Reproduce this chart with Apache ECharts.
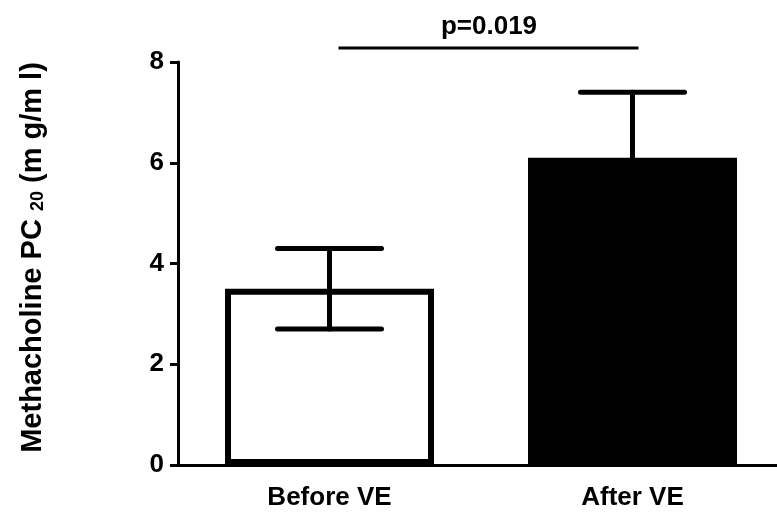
<!DOCTYPE html>
<html>
<head>
<meta charset="utf-8">
<script src="https://cdn.jsdelivr.net/npm/echarts@6/dist/echarts.min.js"></script>
<style>
html,body{margin:0;padding:0;background:#fff;}
#chart{width:777px;height:516px;}
</style>
</head>
<body>
<div id="chart"></div>
<script>
var categories = ['Before VE', 'After VE'];
var means = [3.5, 6.1];
var errors = [0.8, 1.3];
var yTicks = [0, 2, 4, 6, 8];
var pText = 'p=0.019';
var pLevel = 8.28;

var FONT = "'Liberation Sans', Arial, sans-serif";
var chart = echarts.init(document.getElementById('chart'));

var barData = means.map(function (v, i) {
  return {
    value: v,
    itemStyle: i === 0
      ? { color: '#fff', borderColor: '#000', borderWidth: 6 }
      : { color: '#000', borderColor: '#000', borderWidth: 6 }
  };
});
var errData = means.map(function (v, i) { return [i, v - errors[i], v + errors[i]]; });

chart.setOption({
  animation: false,
  grid: { left: 178, top: 62, width: 606, bottom: 51, outerBoundsMode: 'none', containLabel: false },
  xAxis: {
    type: 'category',
    data: categories,
    z: 5,
    axisLine: { lineStyle: { color: '#000', width: 3 } },
    axisTick: { alignWithLabel: true, length: 15, lineStyle: { color: '#000', width: 3 } },
    axisLabel: { color: '#000', fontFamily: FONT, fontWeight: 'bold', fontSize: 26, margin: 20 }
  },
  yAxis: {
    type: 'value',
    min: yTicks[0],
    max: yTicks[yTicks.length - 1],
    interval: 2,
    splitLine: { show: false },
    axisLine: { show: true, lineStyle: { color: '#000', width: 3 } },
    axisTick: { show: true, length: 8, lineStyle: { color: '#000', width: 3 } },
    axisLabel: { color: '#000', fontFamily: FONT, fontWeight: 'bold', fontSize: 26, margin: 14 },
    name: '{a|Methacholine PC }{s|20}{a| (m g/m l)}',
    nameLocation: 'middle',
    nameGap: 131,
    nameTextStyle: {
      padding: [0, 0, 0, 12],
      rich: {
        a: { color: '#000', fontFamily: FONT, fontWeight: 'bold', fontSize: 29 },
        s: { color: '#000', fontFamily: FONT, fontWeight: 'bold', fontSize: 18, verticalAlign: 'bottom', padding: [8, 0, 0, 0] }
      }
    }
  },
  series: [
    {
      type: 'bar',
      data: barData,
      barWidth: 209,
      z: 2
    },
    {
      type: 'custom',
      data: errData,
      z: 3,
      renderItem: function (params, api) {
        var x = api.value(0);
        var lo = api.coord([x, api.value(1)]);
        var hi = api.coord([x, api.value(2)]);
        var hw = 52;
        var st = { stroke: '#000', lineWidth: 5, lineCap: 'round' };
        return {
          type: 'group',
          children: [
            { type: 'line', shape: { x1: hi[0], y1: hi[1], x2: lo[0], y2: lo[1] }, style: st },
            { type: 'line', shape: { x1: hi[0] - hw, y1: hi[1], x2: hi[0] + hw, y2: hi[1] }, style: st },
            { type: 'line', shape: { x1: lo[0] - hw, y1: lo[1], x2: lo[0] + hw, y2: lo[1] }, style: st }
          ]
        };
      }
    },
    {
      type: 'custom',
      data: [[0, 1, pLevel]],
      clip: false,
      z: 3,
      renderItem: function (params, api) {
        var a = api.coord([api.value(0), api.value(2)]);
        var b = api.coord([api.value(1), api.value(2)]);
        return {
          type: 'group',
          children: [
            { type: 'line', shape: { x1: a[0] + 9, y1: a[1], x2: b[0] + 6, y2: b[1] }, style: { stroke: '#000', lineWidth: 3 } },
            { type: 'text', x: (a[0] + b[0]) / 2 + 8, y: a[1] - 8,
              style: { text: pText, fill: '#000', font: 'bold 26px ' + FONT, textAlign: 'center', textVerticalAlign: 'bottom' } }
          ]
        };
      }
    }
  ]
});
</script>
</body>
</html>
